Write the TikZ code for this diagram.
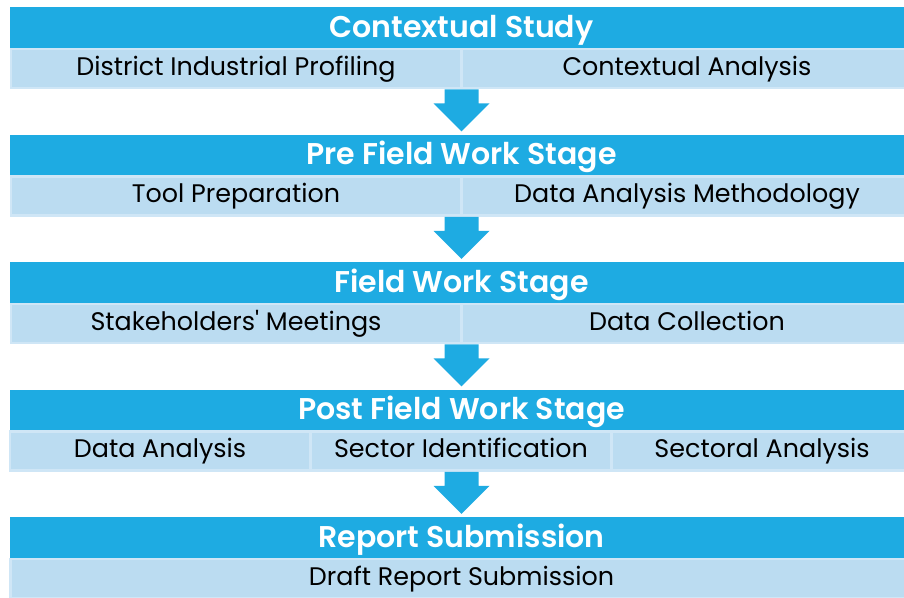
\documentclass[tikz,border=0pt]{standalone}
\usepackage{fontspec}
\usetikzlibrary{calc}
\setmainfont{Poppins}
\newfontfamily\headfont{Poppins SemiBold}
\newfontfamily\straightquote{Poppins}[Ligatures=TeXOff]
\definecolor{stageblue}{HTML}{1EABE2}
\definecolor{cellblue}{HTML}{BBDCF1}
\definecolor{celledge}{HTML}{CFE6F6}
\begin{document}
\begin{tikzpicture}[x=1pt,y=-1pt,
  headbar/.style={fill=stageblue, draw=none, minimum width=903pt, minimum height=41pt,
    inner sep=0pt, text=white, font=\headfont\fontsize{30}{30}\selectfont,
    text height=21pt, text depth=2pt},
  cell/.style={fill=cellblue, draw=celledge, line width=2.5pt, minimum height=39pt,
    inner sep=0pt, text=black, font=\fontsize{25.4}{25.4}\selectfont,
    text height=17.8pt, text depth=4.6pt},
  flowarrow/.style={fill=stageblue, draw=none}]
\useasboundingbox (0,0) rectangle (904,597);
\clip (0,0) rectangle (904,597);

% stage headers
\node[headbar] (h1) at (461.5,27.5) {Contextual Study};
\node[headbar] (h2) at (461.5,155) {Pre Field Work Stage};
\node[headbar] (h3) at (461.5,282.5) {Field Work Stage};
\node[headbar] (h4) at (461.5,410) {Post Field Work Stage};
\node[headbar] (h5) at (461.5,537.5) {Report Submission};

% activity cells
\node[cell, minimum width=450pt] (c11) at (236,68.5) {District Industrial Profiling};
\node[cell, minimum width=450pt] (c12) at (687,68.5) {Contextual Analysis};
\node[cell, minimum width=450pt] (c21) at (236,196) {Tool Preparation};
\node[cell, minimum width=450pt] (c22) at (687,196) {Data Analysis Methodology};
\node[cell, minimum width=450pt] (c31) at (236,323.5) {Stakeholders{\straightquote'} Meetings};
\node[cell, minimum width=450pt] (c32) at (687,323.5) {Data Collection};
\node[cell, minimum width=300pt] (c41) at (160,451) {Data Analysis};
\node[cell, minimum width=300pt] (c42) at (461,451) {Sector Identification};
\node[cell, minimum width=300pt] (c43) at (762,451) {Sectoral Analysis};
\node[cell, minimum width=902pt] (c51) at (461.5,578.5) {Draft Report Submission};

% block arrows between stages
\foreach \row/\next in {c11/h2, c21/h3, c31/h4, c41/h5}{
  \fill[flowarrow] (h1.south |- \row.south) ++(-17,0) -- ++(34,0) -- ++(0,14)
    -- ++(11,0) -- ($(h1.south |- \next.north)+(0,-3)$) -- ++(-28,-28) -- ++(11,0) -- cycle;
}
\end{tikzpicture}
\end{document}
